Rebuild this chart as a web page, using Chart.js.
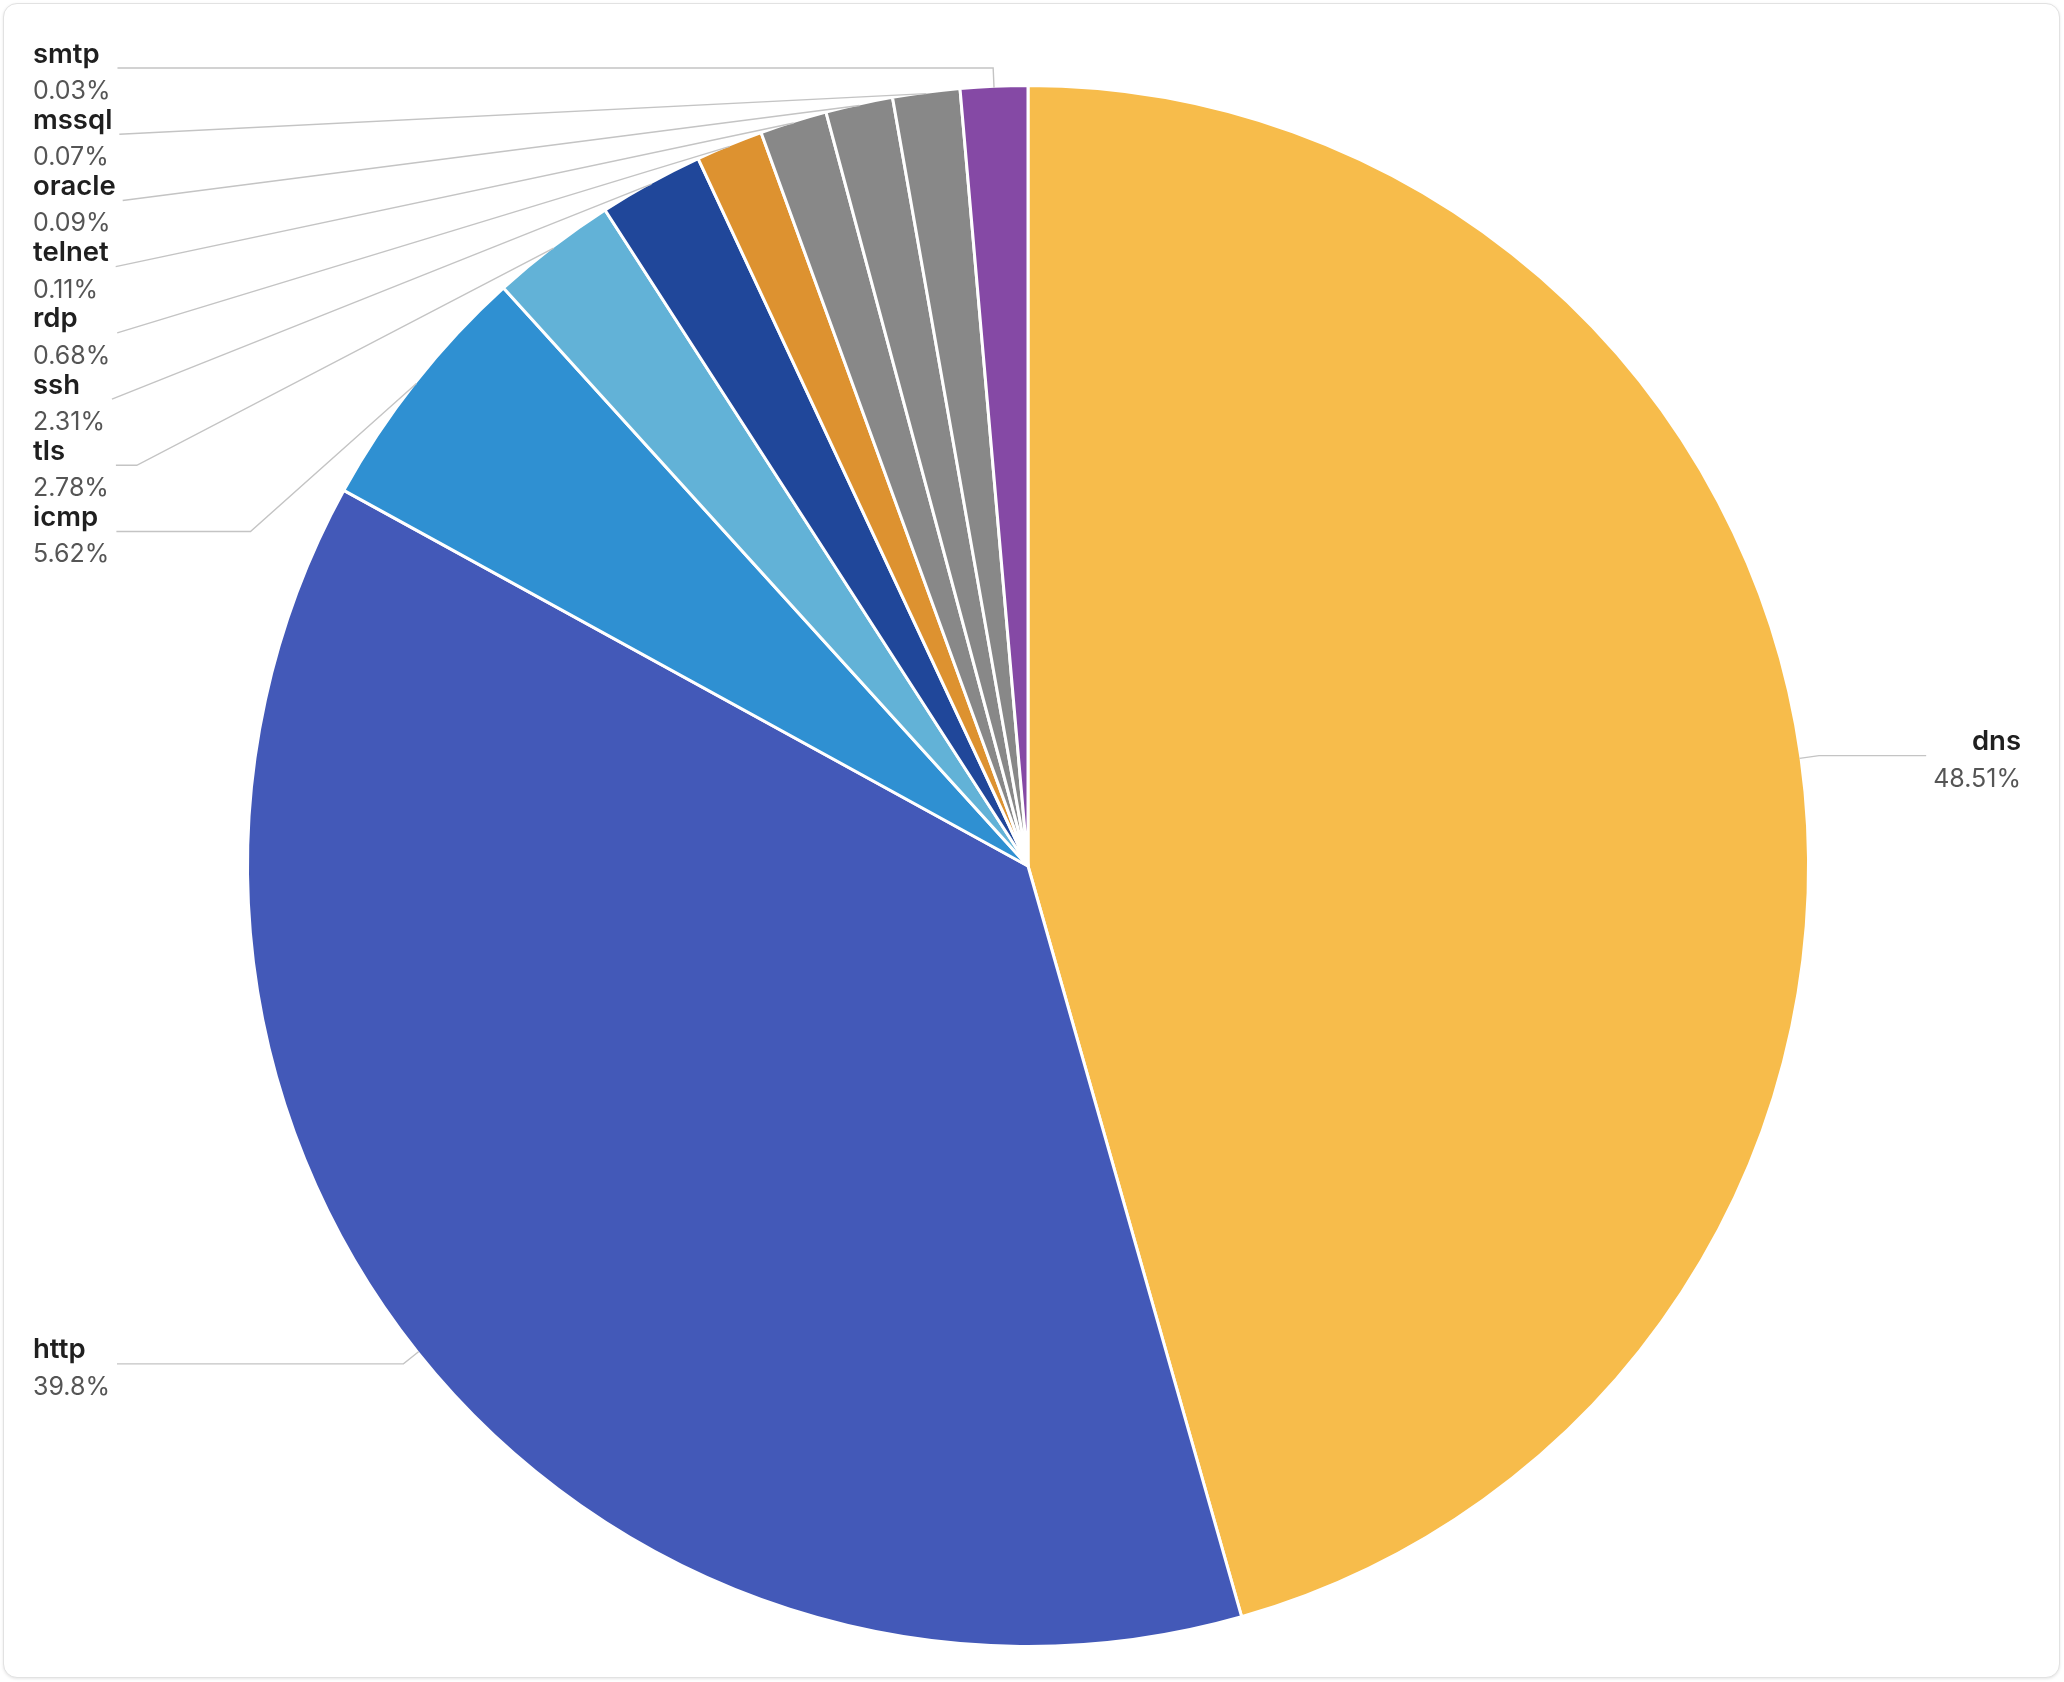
<!DOCTYPE html>
<html>
<head>
<meta charset="utf-8">
<style>
html,body{margin:0;padding:0;background:#fff;width:2064px;height:1682px;overflow:hidden}
#card{position:absolute;left:3px;top:3px;width:2055px;height:1673px;border:1px solid #e2e2e2;border-radius:14px;box-shadow:0 1px 3px rgba(0,0,0,0.10);background:#fff}
#chart{position:absolute;left:0;top:0;width:2064px;height:1682px}
</style>
<script src="https://cdn.jsdelivr.net/npm/chart.js@4/dist/chart.umd.min.js"></script>
</head>
<body>
<div id="card"></div>
<canvas id="chart" width="2064" height="1682"></canvas>
<script>
// ---- data ----
const categories = ['dns', 'http', 'icmp', 'tls', 'ssh', 'rdp', 'telnet', 'oracle', 'mssql', 'smtp'];
const percentValues = [48.51, 39.8, 5.62, 2.78, 2.31, 0.68, 0.11, 0.09, 0.07, 0.03];
const sliceColors = ['#F7BC4B', '#4359B8', '#2F90D2', '#62B2D7', '#20479A', '#DD9230', '#888888', '#888888', '#888888', '#8549A5'];
const MIN_SLICE_DEG = 5;

// slices smaller than the minimum angle are drawn at the minimum angle (like a pie "minAngle" option)
function sliceAngles(values, minDeg) {
  const total = values.reduce((a, b) => a + b, 0);
  const unit = 360 / total;
  const small = values.map(v => v * unit < minDeg);
  let rest = 360, largeSum = 0;
  values.forEach((v, i) => { if (small[i]) rest -= minDeg; else largeSum += v; });
  return values.map((v, i) => small[i] ? minDeg : v * rest / largeSum);
}

function projectToLine(a, b, p) {
  const dx = b[0] - a[0], dy = b[1] - a[1];
  const t = ((p[0] - a[0]) * dx + (p[1] - a[1]) * dy) / (dx * dx + dy * dy);
  const q = [a[0] + t * dx, a[1] + t * dy];
  return { q, d: Math.hypot(p[0] - q[0], p[1] - q[1]) };
}

function limitSurfaceAngle(pts, normal, maxDeg) {
  const maxA = maxDeg * Math.PI / 180;
  const p0 = pts[0], p1 = pts[1], p2 = pts[2];
  let d1 = [p1[0] - p0[0], p1[1] - p0[1]];
  let d2 = [p2[0] - p1[0], p2[1] - p1[1]];
  const l1 = Math.hypot(d1[0], d1[1]), l2 = Math.hypot(d2[0], d2[1]);
  if (l1 < 1e-3 || l2 < 1e-3) return;
  d1 = [d1[0] / l1, d1[1] / l1];
  d2 = [d2[0] / l2, d2[1] / l2];
  const c = d1[0] * normal[0] + d1[1] * normal[1];
  if (c < Math.cos(maxA)) {
    const pr = projectToLine(p1, p2, p0);
    const angle2 = Math.acos(Math.max(-1, Math.min(1, d2[0] * normal[0] + d2[1] * normal[1])));
    const newAngle = Math.PI / 2 + angle2 - maxA;
    let np;
    if (newAngle >= Math.PI / 2) {
      np = p2.slice();
    } else {
      const s = pr.d / Math.tan(Math.PI / 2 - newAngle);
      np = [pr.q[0] + d2[0] * s, pr.q[1] + d2[1] * s];
      const t = p2[0] !== p1[0] ? (np[0] - p1[0]) / (p2[0] - p1[0]) : (np[1] - p1[1]) / (p2[1] - p1[1]);
      if (t < 0) np = p1.slice(); else if (t > 1) np = p2.slice();
    }
    pts[1] = np;
  }
}

const outerLabels = {
  id: 'outerLabels',
  afterDatasetsDraw(chart) {
    const ctx = chart.ctx;
    const meta = chart.getDatasetMeta(0);
    const LEN = 19.7, DIST = 7, LEFT_X = 33, RIGHT_X = 2021, BLOCK_H = 66.2;
    const NAME_FONT = '600 27.5px Inter';
    const PCT_FONT = '400 25px Inter';
    const items = meta.data.map((arc, i) => {
      const p = arc.getProps(['x', 'y', 'startAngle', 'endAngle', 'outerRadius'], true);
      const mid = (p.startAngle + p.endAngle) / 2;
      const r = p.outerRadius - 1.5;
      const nx = Math.cos(mid), ny = Math.sin(mid);
      const pct = percentValues[i] + '%';
      ctx.font = NAME_FONT; const w1 = ctx.measureText(categories[i]).width;
      ctx.font = PCT_FONT; const w2 = ctx.measureText(pct).width;
      return {
        i, pct, nx, ny,
        p0: [p.x + nx * r, p.y + ny * r],
        p1: [p.x + nx * (r + LEN), p.y + ny * (r + LEN)],
        y: p.y + ny * (r + LEN),
        left: nx < 0,
        w: Math.max(w1, w2)
      };
    });
    [true, false].forEach(side => {
      const list = items.filter(it => it.left === side).sort((a, b) => a.y - b.y);
      let last = -Infinity;
      list.forEach(it => { if (it.y < last + BLOCK_H) it.y = last + BLOCK_H; last = it.y; });
    });
    ctx.save();
    items.forEach(it => {
      const p2x = it.left ? LEFT_X + it.w + DIST : RIGHT_X - it.w - DIST;
      const pts = [it.p0, [it.p1[0], it.y], [p2x, it.y]];
      limitSurfaceAngle(pts, [it.nx, it.ny], 80);
      ctx.beginPath();
      ctx.moveTo(pts[0][0], pts[0][1]);
      ctx.lineTo(pts[1][0], pts[1][1]);
      ctx.lineTo(pts[2][0], pts[2][1]);
      ctx.strokeStyle = '#c4c4c4';
      ctx.lineWidth = 1.4;
      ctx.stroke();
      const tx = it.left ? LEFT_X : RIGHT_X;
      ctx.textAlign = it.left ? 'left' : 'right';
      ctx.textBaseline = 'alphabetic';
      ctx.font = NAME_FONT;
      ctx.fillStyle = '#1f1f1f';
      ctx.fillText(categories[it.i], tx, it.y - 5.5);
      ctx.font = PCT_FONT;
      ctx.fillStyle = '#555555';
      ctx.fillText(it.pct, tx, it.y + 31);
    });
    ctx.restore();
  }
};

new Chart(document.getElementById('chart'), {
  type: 'pie',
  data: {
    labels: categories,
    datasets: [{
      data: sliceAngles(percentValues, MIN_SLICE_DEG),
      backgroundColor: sliceColors,
      borderColor: '#ffffff',
      borderWidth: 3,
      hoverOffset: 0,
      radius: 780.5
    }]
  },
  options: {
    responsive: false,
    devicePixelRatio: 1,
    animation: false,
    layout: { padding: { top: 87, bottom: 37, left: 249, right: 257 } },
    plugins: { legend: { display: false }, tooltip: { enabled: false } },
    events: []
  },
  plugins: [outerLabels]
});
</script>
</body>
</html>
